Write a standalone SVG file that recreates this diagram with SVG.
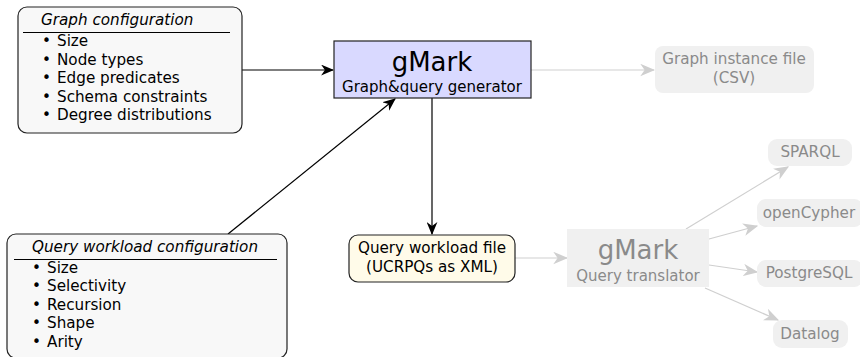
<svg xmlns="http://www.w3.org/2000/svg" width="860" height="357" viewBox="0 0 860 357">
  <style>
    text { font-family: "DejaVu Sans", "Liberation Sans", sans-serif; }
    .cfg { fill: #f8f8f8; stroke: #222; stroke-width: 1.2; }
    .head { font-size: 15.2px; font-style: italic; fill: #000; }
    .item { font-size: 15.2px; fill: #000; }
    .rule { stroke: #000; stroke-width: 1; }
    .main { fill: #d9d9ff; stroke: #222; stroke-width: 1.2; }
    .file { fill: #fffbe9; stroke: #222; stroke-width: 1.2; }
    .ghost { fill: #f0f0f0; stroke: none; }
    .big { font-size: 26px; text-anchor: middle; }
    .sub { font-size: 15px; text-anchor: middle; }
    .dark { fill: #000; }
    .grey { fill: #8a8a8a; }
    .lbl { font-size: 15.2px; text-anchor: middle; }
    .edge { stroke: #000; stroke-width: 1.2; fill: none; marker-end: url(#headDark); }
    .edge-faint { stroke: #cfcfcf; stroke-width: 1.2; fill: none; marker-end: url(#headFaint); }
  </style>
  <defs>
    <marker id="headDark" viewBox="0 0 12 10" refX="11" refY="5" markerWidth="13" markerHeight="11" markerUnits="userSpaceOnUse" orient="auto">
      <path d="M0,0 L12,5 L0,10 L3.5,5 z" fill="#000"/>
    </marker>
    <marker id="headFaint" viewBox="0 0 12 10" refX="11" refY="5" markerWidth="15" markerHeight="13" markerUnits="userSpaceOnUse" orient="auto">
      <path d="M0,0 L12,5 L0,10 L3.5,5 z" fill="#cfcfcf"/>
    </marker>
  </defs>

  <!-- connectors -->
  <g id="connectors">
    <line class="edge" x1="242" y1="70" x2="333" y2="70"/>
    <line class="edge" x1="228" y1="234" x2="395" y2="99"/>
    <line class="edge" x1="432" y1="98" x2="432" y2="234"/>
    <line class="edge-faint" x1="531" y1="70" x2="654" y2="70"/>
    <line class="edge-faint" x1="515" y1="258" x2="567" y2="258"/>
    <line class="edge-faint" x1="686" y1="229" x2="788" y2="167"/>
    <line class="edge-faint" x1="709" y1="239" x2="757" y2="226"/>
    <line class="edge-faint" x1="709" y1="265" x2="757" y2="272"/>
    <line class="edge-faint" x1="705" y1="288" x2="778" y2="320"/>
  </g>

  <!-- graph configuration -->
  <g id="graph-config">
    <rect class="cfg" x="18" y="7" width="224" height="126" rx="9"/>
    <text class="head" x="41" y="25">Graph configuration</text>
    <line class="rule" x1="23" y1="32.5" x2="230" y2="32.5"/>
    <text class="item" y="46"><tspan x="42">•</tspan><tspan x="57">Size</tspan></text>
    <text class="item" y="65"><tspan x="42">•</tspan><tspan x="57">Node types</tspan></text>
    <text class="item" y="83"><tspan x="42">•</tspan><tspan x="57">Edge predicates</tspan></text>
    <text class="item" y="102"><tspan x="42">•</tspan><tspan x="57">Schema constraints</tspan></text>
    <text class="item" y="120"><tspan x="42">•</tspan><tspan x="57">Degree distributions</tspan></text>
  </g>

  <!-- generator -->
  <g id="generator">
    <rect class="main" x="334" y="41" width="197" height="57"/>
    <text class="big dark" x="432" y="71">gMark</text>
    <text class="sub dark" x="432" y="92">Graph&amp;query generator</text>
  </g>

  <!-- graph instance output -->
  <g id="graph-instance">
    <rect class="ghost" x="655" y="46" width="159" height="47" rx="8"/>
    <text class="lbl grey" x="734" y="64">Graph instance file</text>
    <text class="lbl grey" x="734" y="83">(CSV)</text>
  </g>

  <!-- query workload configuration -->
  <g id="query-config">
    <rect class="cfg" x="7" y="234" width="280" height="124" rx="9"/>
    <text class="head" x="32" y="252">Query workload configuration</text>
    <line class="rule" x1="14" y1="259.5" x2="277" y2="259.5"/>
    <text class="item" y="273"><tspan x="32">•</tspan><tspan x="47">Size</tspan></text>
    <text class="item" y="291"><tspan x="32">•</tspan><tspan x="47">Selectivity</tspan></text>
    <text class="item" y="310"><tspan x="32">•</tspan><tspan x="47">Recursion</tspan></text>
    <text class="item" y="328"><tspan x="32">•</tspan><tspan x="47">Shape</tspan></text>
    <text class="item" y="347"><tspan x="32">•</tspan><tspan x="47">Arity</tspan></text>
  </g>

  <!-- query workload file -->
  <g id="workload-file">
    <rect class="file" x="349" y="235" width="166" height="47" rx="9"/>
    <text class="lbl dark" x="432" y="253">Query workload file</text>
    <text class="lbl dark" x="432" y="272">(UCRPQs as XML)</text>
  </g>

  <!-- translator -->
  <g id="translator">
    <rect class="ghost" x="567" y="229" width="142" height="58"/>
    <text class="big grey" x="638" y="259">gMark</text>
    <text class="sub grey" x="638" y="281">Query translator</text>
  </g>

  <!-- target languages -->
  <g id="sparql">
    <rect class="ghost" x="768" y="139" width="84" height="27" rx="9"/>
    <text class="lbl grey" x="810" y="157">SPARQL</text>
  </g>
  <g id="opencypher">
    <rect class="ghost" x="757" y="199" width="106" height="28" rx="9"/>
    <text class="lbl grey" x="809" y="218">openCypher</text>
  </g>
  <g id="postgresql">
    <rect class="ghost" x="757" y="260" width="106" height="27" rx="9"/>
    <text class="lbl grey" x="809" y="278">PostgreSQL</text>
  </g>
  <g id="datalog">
    <rect class="ghost" x="773" y="320" width="75" height="28" rx="9"/>
    <text class="lbl grey" x="810" y="339">Datalog</text>
  </g>
</svg>
